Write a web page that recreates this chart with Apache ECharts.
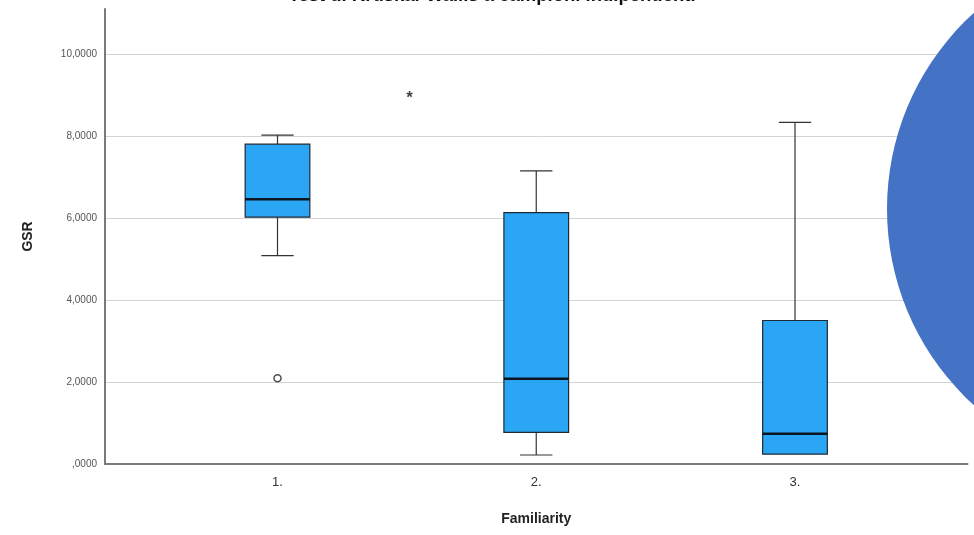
<!DOCTYPE html>
<html>
<head>
<meta charset="utf-8">
<script src="https://cdn.jsdelivr.net/npm/echarts@6/dist/echarts.min.js"></script>
<style>
html,body{margin:0;padding:0;background:#fff;}
#chart{width:974px;height:535px;}
</style>
</head>
<body>
<div id="chart"></div>
<script>
// Data
var categories = ['1.', '2.', '3.'];
var groupPositions = [1, 2, 3];
// [min whisker, Q1, median, Q3, max whisker]
var boxStats = [
  [5.08, 6.02, 6.46, 7.80, 8.02],
  [0.22, 0.77, 2.08, 6.13, 7.15],
  [0.24, 0.24, 0.74, 3.50, 8.33]
];
var outliers = [[1, 2.09]];
var extremes = [[1.51, 8.98]];
var yTicks = [0, 2, 4, 6, 8, 10];
var titleText = 'Test di Kruskal-Wallis a campioni indipendenti';

var boxData = groupPositions.map(function (p, i) { return [p].concat(boxStats[i]); });

function fmtY(v) {
  if (v === 0) return ',0000';
  var s = v.toFixed(4).replace('.', ',');
  return s;
}

var chart = echarts.init(document.getElementById('chart'), null, {renderer: 'canvas'});
chart.setOption({
  animation: false,
  backgroundColor: '#ffffff',
  title: {
    text: titleText,
    left: 492,
    textAlign: 'center',
    top: -14,
    padding: 0,
    textStyle: {fontFamily: 'Liberation Sans', fontSize: 18.5, fontWeight: 'bold', color: '#111'}
  },
  grid: {left: 105, right: 6.5, top: 8.9, bottom: 71, containLabel: false},
  xAxis: {
    type: 'value',
    min: 1 / 3,
    max: 11 / 3,
    name: 'Familiarity',
    nameLocation: 'middle',
    nameGap: 48,
    nameTextStyle: {fontFamily: 'Liberation Sans', fontSize: 14, fontWeight: 'bold', color: '#222'},
    axisLine: {show: true, lineStyle: {color: '#7a7a7a', width: 2}},
    axisTick: {show: false},
    splitLine: {show: false},
    axisLabel: {
      customValues: groupPositions,
      margin: 12,
      fontFamily: 'Liberation Sans', fontSize: 13, color: '#333',
      formatter: function (v) { return categories[Math.round(v) - 1]; }
    }
  },
  yAxis: {
    type: 'value',
    min: 0,
    max: 11.1,
    interval: 2,
    name: 'GSR',
    nameLocation: 'middle',
    nameRotate: 90,
    nameGap: 70,
    nameTextStyle: {fontFamily: 'Liberation Sans', fontSize: 14, fontWeight: 'bold', color: '#222'},
    axisLine: {show: true, lineStyle: {color: '#7a7a7a', width: 2}},
    axisTick: {show: false},
    splitLine: {show: true, showMaxLine: false, showMinLine: false, lineStyle: {color: '#d4d4d4', width: 1}},
    axisLabel: {
      showMaxLabel: false,
      margin: 8,
      fontFamily: 'Liberation Sans', fontSize: 10, color: '#555',
      formatter: function (v) { return yTicks.indexOf(v) >= 0 ? fmtY(v) : ''; }
    }
  },
  series: [
    {
      type: 'custom',
      data: boxData,
      encode: {x: 0, y: [1, 2, 3, 4, 5]},
      renderItem: function (params, api) {
        var x = api.value(0);
        var unit = api.size([1, 0])[0];
        var bw = unit * 0.25;
        var cw = bw * 0.5;
        var pMin = api.coord([x, api.value(1)]);
        var pQ1 = api.coord([x, api.value(2)]);
        var pMed = api.coord([x, api.value(3)]);
        var pQ3 = api.coord([x, api.value(4)]);
        var pMax = api.coord([x, api.value(5)]);
        var cx = pMed[0];
        var wStyle = {stroke: '#333', lineWidth: 1.2};
        var children = [];
        if (pMax[1] < pQ3[1]) {
          children.push({type: 'line', shape: {x1: cx, y1: pQ3[1], x2: cx, y2: pMax[1]}, style: wStyle});
          children.push({type: 'line', shape: {x1: cx - cw / 2, y1: pMax[1], x2: cx + cw / 2, y2: pMax[1]}, style: wStyle});
        }
        if (pMin[1] > pQ1[1]) {
          children.push({type: 'line', shape: {x1: cx, y1: pQ1[1], x2: cx, y2: pMin[1]}, style: wStyle});
          children.push({type: 'line', shape: {x1: cx - cw / 2, y1: pMin[1], x2: cx + cw / 2, y2: pMin[1]}, style: wStyle});
        }
        children.push({
          type: 'rect',
          shape: {x: cx - bw / 2, y: pQ3[1], width: bw, height: pQ1[1] - pQ3[1]},
          style: {fill: '#2aa6f4', stroke: '#1f2a33', lineWidth: 1.2}
        });
        children.push({
          type: 'line',
          shape: {x1: cx - bw / 2, y1: pMed[1], x2: cx + bw / 2, y2: pMed[1]},
          style: {stroke: '#0d1620', lineWidth: 2.5}
        });
        return {type: 'group', children: children};
      },
      z: 3
    },
    {
      type: 'scatter',
      data: outliers,
      symbol: 'circle',
      symbolSize: 7,
      itemStyle: {color: '#ffffff', borderColor: '#222', borderWidth: 1.5},
      z: 4
    },
    {
      type: 'scatter',
      data: extremes,
      symbolSize: 1,
      itemStyle: {color: 'rgba(0,0,0,0)'},
      label: {
        show: true, position: 'inside', formatter: '*',
        fontFamily: 'Liberation Sans', fontSize: 17, fontWeight: 'bold', color: '#111', offset: [0, 2]
      },
      z: 4
    }
  ],
  graphic: [
    {
      type: 'circle',
      shape: {cx: 1152, cy: 209, r: 265},
      style: {fill: '#4472c4'},
      z: 100
    }
  ]
});
</script>
</body>
</html>
